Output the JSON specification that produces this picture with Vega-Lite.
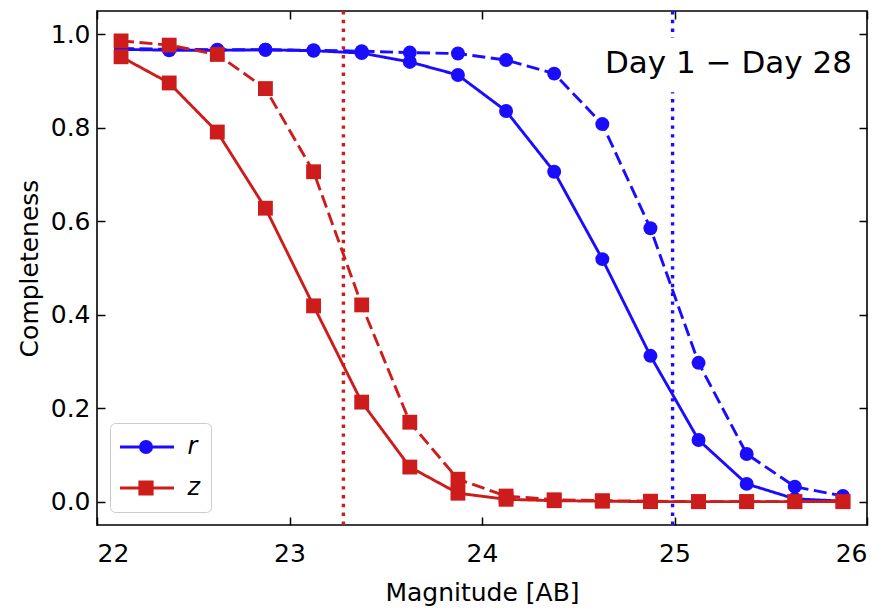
{
  "$schema": "https://vega.github.io/schema/vega-lite/v6.json",
  "width": 770,
  "height": 514,
  "autosize": {"type": "none"},
  "padding": {"left": 97, "top": 11, "right": 17, "bottom": 85},
  "background": "white",
  "config": {
    "font": "DejaVu Sans",
    "view": {"stroke": "black", "strokeWidth": 1.6},
    "axis": {
      "grid": false,
      "domain": false,
      "tickSize": -8,
      "tickWidth": 1.5,
      "tickColor": "black",
      "labelFont": "DejaVu Sans",
      "labelFontSize": 25,
      "labelColor": "black",
      "titleFont": "DejaVu Sans",
      "titleFontSize": 25,
      "titleFontWeight": "normal",
      "titleColor": "black"
    },
    "legend": {
      "title": null,
      "orient": "bottom-left",
      "offset": 13,
      "padding": 10,
      "cornerRadius": 5,
      "strokeColor": "#cccccc",
      "fillColor": "white",
      "symbolSize": 3136,
      "symbolStrokeWidth": 2.9,
      "symbolOpacity": 1,
      "symbolOffset": -3.5,
      "labelOffset": 12,
      "clipHeight": 28,
      "rowPadding": 13,
      "labelFont": "DejaVu Sans",
      "labelFontSize": 24,
      "labelFontStyle": "italic",
      "labelColor": "black"
    }
  },
  "datasets": {
    "curves": [
      {"mag": 22.125, "comp": 0.968, "band": "r", "day": "Day 1"},
      {"mag": 22.375, "comp": 0.966, "band": "r", "day": "Day 1"},
      {"mag": 22.625, "comp": 0.966, "band": "r", "day": "Day 1"},
      {"mag": 22.875, "comp": 0.967, "band": "r", "day": "Day 1"},
      {"mag": 23.125, "comp": 0.965, "band": "r", "day": "Day 1"},
      {"mag": 23.375, "comp": 0.960, "band": "r", "day": "Day 1"},
      {"mag": 23.625, "comp": 0.941, "band": "r", "day": "Day 1"},
      {"mag": 23.875, "comp": 0.913, "band": "r", "day": "Day 1"},
      {"mag": 24.125, "comp": 0.836, "band": "r", "day": "Day 1"},
      {"mag": 24.375, "comp": 0.706, "band": "r", "day": "Day 1"},
      {"mag": 24.625, "comp": 0.519, "band": "r", "day": "Day 1"},
      {"mag": 24.875, "comp": 0.312, "band": "r", "day": "Day 1"},
      {"mag": 25.125, "comp": 0.132, "band": "r", "day": "Day 1"},
      {"mag": 25.375, "comp": 0.038, "band": "r", "day": "Day 1"},
      {"mag": 25.625, "comp": 0.006, "band": "r", "day": "Day 1"},
      {"mag": 25.875, "comp": 0.001, "band": "r", "day": "Day 1"},
      {"mag": 22.125, "comp": 0.970, "band": "r", "day": "Day 28"},
      {"mag": 22.375, "comp": 0.968, "band": "r", "day": "Day 28"},
      {"mag": 22.625, "comp": 0.967, "band": "r", "day": "Day 28"},
      {"mag": 22.875, "comp": 0.967, "band": "r", "day": "Day 28"},
      {"mag": 23.125, "comp": 0.966, "band": "r", "day": "Day 28"},
      {"mag": 23.375, "comp": 0.964, "band": "r", "day": "Day 28"},
      {"mag": 23.625, "comp": 0.961, "band": "r", "day": "Day 28"},
      {"mag": 23.875, "comp": 0.959, "band": "r", "day": "Day 28"},
      {"mag": 24.125, "comp": 0.945, "band": "r", "day": "Day 28"},
      {"mag": 24.375, "comp": 0.916, "band": "r", "day": "Day 28"},
      {"mag": 24.625, "comp": 0.808, "band": "r", "day": "Day 28"},
      {"mag": 24.875, "comp": 0.585, "band": "r", "day": "Day 28"},
      {"mag": 25.125, "comp": 0.297, "band": "r", "day": "Day 28"},
      {"mag": 25.375, "comp": 0.102, "band": "r", "day": "Day 28"},
      {"mag": 25.625, "comp": 0.032, "band": "r", "day": "Day 28"},
      {"mag": 25.875, "comp": 0.012, "band": "r", "day": "Day 28"},
      {"mag": 22.125, "comp": 0.952, "band": "z", "day": "Day 1"},
      {"mag": 22.375, "comp": 0.896, "band": "z", "day": "Day 1"},
      {"mag": 22.625, "comp": 0.791, "band": "z", "day": "Day 1"},
      {"mag": 22.875, "comp": 0.628, "band": "z", "day": "Day 1"},
      {"mag": 23.125, "comp": 0.419, "band": "z", "day": "Day 1"},
      {"mag": 23.375, "comp": 0.213, "band": "z", "day": "Day 1"},
      {"mag": 23.625, "comp": 0.074, "band": "z", "day": "Day 1"},
      {"mag": 23.875, "comp": 0.018, "band": "z", "day": "Day 1"},
      {"mag": 24.125, "comp": 0.005, "band": "z", "day": "Day 1"},
      {"mag": 24.375, "comp": 0.002, "band": "z", "day": "Day 1"},
      {"mag": 24.625, "comp": 0.001, "band": "z", "day": "Day 1"},
      {"mag": 24.875, "comp": 0.0, "band": "z", "day": "Day 1"},
      {"mag": 25.125, "comp": 0.0, "band": "z", "day": "Day 1"},
      {"mag": 25.375, "comp": 0.0, "band": "z", "day": "Day 1"},
      {"mag": 25.625, "comp": 0.0, "band": "z", "day": "Day 1"},
      {"mag": 25.875, "comp": 0.0, "band": "z", "day": "Day 1"},
      {"mag": 22.125, "comp": 0.986, "band": "z", "day": "Day 28"},
      {"mag": 22.375, "comp": 0.977, "band": "z", "day": "Day 28"},
      {"mag": 22.625, "comp": 0.957, "band": "z", "day": "Day 28"},
      {"mag": 22.875, "comp": 0.884, "band": "z", "day": "Day 28"},
      {"mag": 23.125, "comp": 0.706, "band": "z", "day": "Day 28"},
      {"mag": 23.375, "comp": 0.421, "band": "z", "day": "Day 28"},
      {"mag": 23.625, "comp": 0.170, "band": "z", "day": "Day 28"},
      {"mag": 23.875, "comp": 0.048, "band": "z", "day": "Day 28"},
      {"mag": 24.125, "comp": 0.012, "band": "z", "day": "Day 28"},
      {"mag": 24.375, "comp": 0.004, "band": "z", "day": "Day 28"},
      {"mag": 24.625, "comp": 0.002, "band": "z", "day": "Day 28"},
      {"mag": 24.875, "comp": 0.001, "band": "z", "day": "Day 28"},
      {"mag": 25.125, "comp": 0.0, "band": "z", "day": "Day 28"},
      {"mag": 25.375, "comp": 0.0, "band": "z", "day": "Day 28"},
      {"mag": 25.625, "comp": 0.0, "band": "z", "day": "Day 28"},
      {"mag": 25.875, "comp": 0.0, "band": "z", "day": "Day 28"}
    ],
    "limits": [
      {"band": "z", "mag": 23.28},
      {"band": "r", "mag": 24.99}
    ]
  },
  "layer": [
    {
      "data": {"name": "limits"},
      "transform": [{"filter": "datum.band === 'z'"}],
      "mark": {"type": "rule", "color": "#cd1c1c", "strokeWidth": 3.4, "strokeDash": [3.4, 5.4]},
      "encoding": {
        "x": {"field": "mag", "type": "quantitative", "scale": {"domain": [22, 26], "nice": false}, "axis": null}
      }
    },
    {
      "data": {"name": "limits"},
      "transform": [{"filter": "datum.band === 'r'"}],
      "mark": {"type": "rule", "color": "#1a0dff", "strokeWidth": 3.4, "strokeDash": [3.4, 5.4]},
      "encoding": {
        "x": {"field": "mag", "type": "quantitative", "axis": null}
      }
    },
    {
      "data": {"values": [{"label": "Day 1 − Day 28"}]},
      "mark": {"type": "rect", "fill": "white"},
      "encoding": {
        "x": {"datum": 24.56, "type": "quantitative", "axis": {"orient": "top", "values": [22, 23, 24, 25, 26], "labels": false, "title": null}},
        "x2": {"datum": 25.97},
        "y": {"datum": 0.876, "type": "quantitative", "axis": {"orient": "right", "values": [0, 0.2, 0.4, 0.6, 0.8, 1.0], "labels": false, "title": null}},
        "y2": {"datum": 0.992}
      }
    },
    {
      "data": {"name": "curves"},
      "transform": [{"filter": "datum.band === 'r'"}],
      "mark": {"type": "line", "strokeWidth": 2.9, "color": "#1a0dff"},
      "encoding": {
        "x": {
          "field": "mag", "type": "quantitative",
          "scale": {"domain": [22, 26], "nice": false, "zero": false},
          "axis": {"orient": "bottom", "title": "Magnitude [AB]", "values": [22, 23, 24, 25, 26], "format": "d", "labelPadding": 24, "titlePadding": 14}
        },
        "y": {
          "field": "comp", "type": "quantitative",
          "scale": {"domain": [-0.05, 1.05], "nice": false, "zero": false},
          "axis": {"orient": "left", "title": "Completeness", "values": [0, 0.2, 0.4, 0.6, 0.8, 1.0], "format": ".1f", "labelPadding": 15, "titlePadding": 8}
        },
        "strokeDash": {
          "field": "day", "type": "nominal",
          "scale": {"domain": ["Day 1", "Day 28"], "range": [[1, 0], [13, 5.5]]},
          "legend": null
        }
      }
    },
    {
      "data": {"name": "curves"},
      "transform": [{"filter": "datum.band === 'z'"}],
      "mark": {"type": "line", "strokeWidth": 2.9, "color": "#cd1c1c"},
      "encoding": {
        "x": {"field": "mag", "type": "quantitative", "axis": null},
        "y": {"field": "comp", "type": "quantitative", "axis": null},
        "strokeDash": {"field": "day", "type": "nominal", "legend": null}
      }
    },
    {
      "data": {"name": "curves"},
      "transform": [{"filter": "datum.band === 'r'"}],
      "mark": {"type": "point", "shape": "circle", "filled": true, "opacity": 1, "size": 195, "color": "#1a0dff"},
      "encoding": {
        "x": {"field": "mag", "type": "quantitative", "axis": null},
        "y": {"field": "comp", "type": "quantitative", "axis": null}
      }
    },
    {
      "data": {"name": "curves"},
      "transform": [{"filter": "datum.band === 'z'"}],
      "mark": {"type": "point", "shape": "square", "filled": true, "opacity": 1, "size": 220, "color": "#cd1c1c"},
      "encoding": {
        "x": {"field": "mag", "type": "quantitative", "axis": null},
        "y": {"field": "comp", "type": "quantitative", "axis": null}
      }
    },
    {
      "data": {"name": "curves"},
      "transform": [{"filter": "datum.mag < 0"}],
      "mark": {"type": "point", "filled": true, "opacity": 1},
      "encoding": {
        "shape": {
          "field": "band", "type": "nominal",
          "scale": {"domain": ["r", "z"], "range": ["M-1,0L1,0M-0.2,0A0.2,0.2,0,1,0,0.2,0A0.2,0.2,0,1,0,-0.2,0Z", "M-1,0L1,0M-0.22,-0.22L0.22,-0.22L0.22,0.22L-0.22,0.22Z"]}
        },
        "fill": {
          "field": "band", "type": "nominal",
          "scale": {"domain": ["r", "z"], "range": ["#1a0dff", "#cd1c1c"]}
        },
        "stroke": {
          "field": "band", "type": "nominal",
          "scale": {"domain": ["r", "z"], "range": ["#1a0dff", "#cd1c1c"]}
        }
      }
    },
    {
      "data": {"values": [{"label": "Day 1 − Day 28"}]},
      "mark": {"type": "text", "align": "right", "baseline": "middle", "fontSize": 31, "font": "DejaVu Sans", "color": "black"},
      "encoding": {
        "x": {"datum": 25.922, "type": "quantitative", "axis": null},
        "y": {"datum": 0.937, "type": "quantitative", "axis": null},
        "text": {"field": "label", "type": "nominal"}
      }
    }
  ],
  "resolve": {"axis": {"x": "independent", "y": "independent"}}
}
